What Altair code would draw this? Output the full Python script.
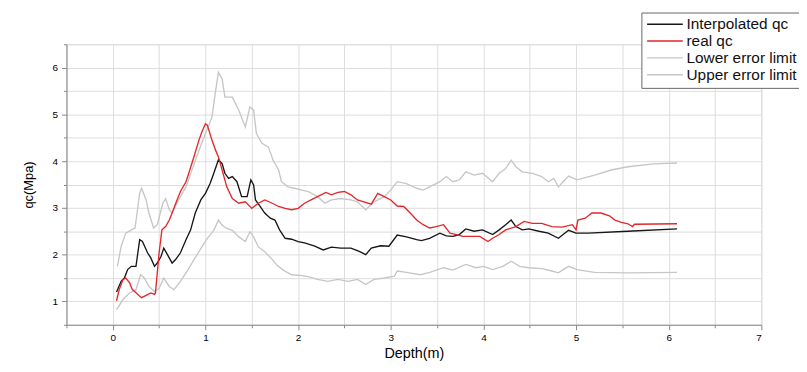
import altair as alt
import pandas as pd

# ---------------- data ----------------
interp_x = [0.04, 0.09, 0.125, 0.16, 0.2, 0.25, 0.29, 0.32, 0.375, 0.41, 0.45, 0.48, 0.52, 0.55, 0.59,
            0.64, 0.68, 0.73, 0.79, 0.84, 0.89, 0.95, 1.0, 1.05, 1.09, 1.14, 1.18, 1.21, 1.25, 1.29,
            1.34, 1.39, 1.45, 1.49, 1.52, 1.54, 1.59, 1.64, 1.7, 1.75, 1.8, 1.86, 1.93, 2.0, 2.07,
            2.18, 2.27, 2.36, 2.46, 2.57, 2.66, 2.73, 2.79, 2.89, 2.98, 3.07, 3.17, 3.28, 3.33, 3.42,
            3.53, 3.6, 3.67, 3.74, 3.81, 3.9, 3.99, 4.1, 4.17, 4.24, 4.3, 4.35, 4.42, 4.49, 4.6,
            4.7, 4.81, 4.86, 4.92, 5.0, 5.13, 5.56, 6.09]
interp_y = [1.2, 1.43, 1.5, 1.68, 1.75, 1.75, 2.32, 2.28, 2.04, 1.93, 1.75, 1.82, 1.96, 2.14, 2.0,
            1.82, 1.9, 2.04, 2.32, 2.53, 2.89, 3.17, 3.31, 3.52, 3.74, 4.03, 3.95, 3.74, 3.63, 3.67,
            3.56, 3.24, 3.24, 3.6, 3.49, 3.17, 3.03, 2.89, 2.78, 2.74, 2.53, 2.35, 2.33, 2.28, 2.25,
            2.18, 2.1, 2.16, 2.14, 2.14, 2.07, 2.0, 2.14, 2.19, 2.18, 2.42, 2.38, 2.32, 2.3, 2.35,
            2.46, 2.4, 2.39, 2.43, 2.55, 2.5, 2.53, 2.43, 2.53, 2.64, 2.74, 2.6, 2.53, 2.55, 2.5,
            2.46, 2.35, 2.43, 2.52, 2.46, 2.46, 2.5, 2.55]

real_x = [0.04, 0.07, 0.11, 0.14, 0.18, 0.21, 0.27, 0.31, 0.36, 0.41, 0.45, 0.46, 0.5, 0.53, 0.57,
          0.61, 0.64, 0.68, 0.73, 0.79, 0.82, 0.875, 0.93, 0.96, 1.0, 1.02, 1.07, 1.11, 1.14, 1.18,
          1.23, 1.29, 1.36, 1.43, 1.5, 1.57, 1.64, 1.71, 1.79, 1.86, 1.93, 2.0, 2.07, 2.14, 2.21,
          2.3, 2.36, 2.43, 2.5, 2.57, 2.64, 2.71, 2.79, 2.86, 2.93, 3.0, 3.07, 3.14, 3.21, 3.28,
          3.35, 3.42, 3.49, 3.57, 3.64, 3.71, 3.78, 3.85, 3.96, 4.05, 4.1, 4.17, 4.24, 4.35, 4.44,
          4.53, 4.63, 4.74, 4.85, 4.96, 5.0, 5.02, 5.1, 5.17, 5.27, 5.36, 5.42, 5.49, 5.56, 5.61,
          5.63, 6.09]
real_y = [1.01, 1.26, 1.47, 1.5, 1.4, 1.26, 1.15, 1.08, 1.13, 1.18, 1.15, 1.18, 2.04, 2.53, 2.6,
          2.74, 2.89, 3.1, 3.35, 3.56, 3.74, 4.09, 4.45, 4.62, 4.8, 4.77, 4.45, 4.23, 4.09, 3.81,
          3.45, 3.2, 3.1, 3.13, 2.99, 3.1, 3.17, 3.11, 3.03, 2.99, 2.96, 2.99, 3.1, 3.17, 3.24,
          3.33, 3.28, 3.33, 3.35, 3.28, 3.17, 3.13, 3.08, 3.31, 3.24, 3.17, 3.04, 3.03, 2.89, 2.74,
          2.64, 2.57, 2.6, 2.64, 2.46, 2.43, 2.39, 2.39, 2.39, 2.28, 2.35, 2.43, 2.53, 2.6, 2.71,
          2.67, 2.67, 2.6, 2.59, 2.64, 2.53, 2.74, 2.78, 2.89, 2.89, 2.83, 2.74, 2.69, 2.66, 2.6,
          2.65, 2.66]

lower_x = [0.04, 0.11, 0.18, 0.25, 0.3, 0.34, 0.39, 0.45, 0.5, 0.55, 0.61, 0.66, 0.73, 0.8, 0.875,
           0.95, 1.02, 1.09, 1.14, 1.18, 1.23, 1.29, 1.36, 1.43, 1.48, 1.52, 1.57, 1.64, 1.71, 1.77,
           1.84, 1.93, 2.04, 2.11, 2.21, 2.32, 2.43, 2.54, 2.64, 2.73, 2.82, 2.93, 3.04, 3.07, 3.17,
           3.32, 3.42, 3.57, 3.67, 3.81, 3.92, 4.0, 4.1, 4.21, 4.3, 4.39, 4.49, 4.63, 4.74, 4.81,
           4.86, 4.92, 5.01, 5.2, 5.56, 6.09]
lower_y = [0.82, 1.04, 1.18, 1.25, 1.57, 1.5, 1.32, 1.21, 1.28, 1.5, 1.32, 1.25, 1.43, 1.64, 1.89,
           2.13, 2.35, 2.52, 2.74, 2.63, 2.56, 2.52, 2.38, 2.28, 2.49, 2.38, 2.17, 2.06, 1.92, 1.78,
           1.67, 1.57, 1.55, 1.53, 1.47, 1.43, 1.47, 1.43, 1.47, 1.36, 1.47, 1.5, 1.54, 1.65, 1.62,
           1.57, 1.62, 1.72, 1.67, 1.79, 1.72, 1.75, 1.68, 1.75, 1.86, 1.75, 1.72, 1.7, 1.65, 1.61,
           1.68, 1.75, 1.68, 1.62, 1.61, 1.62]

upper_x = [0.05, 0.09, 0.14, 0.2, 0.24, 0.29, 0.31, 0.36, 0.39, 0.44, 0.48, 0.54, 0.57, 0.61, 0.64,
           0.71, 0.79, 0.86, 0.93, 1.0, 1.07, 1.11, 1.14, 1.18, 1.21, 1.29, 1.36, 1.43, 1.48, 1.52,
           1.55, 1.61, 1.68, 1.73, 1.79, 1.82, 1.89, 1.96, 2.04, 2.11, 2.21, 2.29, 2.36, 2.46, 2.57,
           2.64, 2.73, 2.82, 2.93, 3.0, 3.07, 3.17, 3.28, 3.35, 3.42, 3.53, 3.6, 3.67, 3.74, 3.81,
           3.9, 3.99, 4.1, 4.17, 4.24, 4.3, 4.35, 4.42, 4.53, 4.63, 4.7, 4.76, 4.81, 4.86, 4.92,
           5.01, 5.2, 5.38, 5.56, 5.84, 6.09]
upper_y = [1.75, 2.18, 2.46, 2.53, 2.57, 3.31, 3.42, 3.17, 2.89, 2.57, 2.64, 3.1, 3.2, 2.96, 2.89,
           3.17, 3.45, 3.84, 4.23, 4.59, 4.94, 5.51, 5.9, 5.76, 5.37, 5.37, 5.09, 4.73, 5.16, 5.09,
           4.59, 4.38, 4.3, 4.02, 3.81, 3.56, 3.45, 3.42, 3.38, 3.35, 3.24, 3.1, 3.17, 3.2, 3.17,
           3.13, 2.96, 3.13, 3.24, 3.38, 3.56, 3.52, 3.42, 3.38, 3.45, 3.56, 3.67, 3.56, 3.6, 3.77,
           3.7, 3.74, 3.56, 3.74, 3.84, 4.02, 3.88, 3.77, 3.74, 3.67, 3.56, 3.63, 3.45, 3.56, 3.68,
           3.6, 3.7, 3.81, 3.88, 3.94, 3.96]

series_names = ["Interpolated qc", "real qc", "Lower error limit", "Upper error limit"]
series_colors = ["#161616", "#e3262b", "#c6c6c6", "#c6c6c6"]

x_tick_values = [-0.5, 0, 0.5, 1, 1.5, 2, 2.5, 3, 3.5, 4, 4.5, 5, 5.5, 6, 6.5, 7]
y_tick_values = [0.5, 1, 1.5, 2, 2.5, 3, 3.5, 4, 4.5, 5, 5.5, 6, 6.5]

# grey limits first so they are drawn underneath
rows = []
for name, xs, ys in [("Lower error limit", lower_x, lower_y),
                     ("Upper error limit", upper_x, upper_y),
                     ("Interpolated qc", interp_x, interp_y),
                     ("real qc", real_x, real_y)]:
    for i, (xv, yv) in enumerate(zip(xs, ys)):
        rows.append({"series": name, "depth": xv, "qc": yv, "idx": i})
df = pd.DataFrame(rows)

major_test = "abs(datum.value - round(datum.value)) < 0.001"
label_expr = f"{major_test} ? format(datum.value, 'd') : ''"

chart = alt.Chart(df).mark_line(strokeWidth=1.35).encode(
    x=alt.X("depth:Q",
            scale=alt.Scale(domain=[-0.5, 7], nice=False, zero=False),
            axis=alt.Axis(title="Depth(m)", values=x_tick_values, labelExpr=label_expr,
                          tickSize={"condition": {"test": major_test, "value": 5}, "value": 3},
                          titleFontSize=14.5, titleFontWeight="normal", titlePadding=4,
                          labelPadding=3)),
    y=alt.Y("qc:Q",
            scale=alt.Scale(domain=[0.5, 6.5], nice=False, zero=False),
            axis=alt.Axis(title="qc(Mpa)", values=y_tick_values, labelExpr=label_expr,
                          tickSize={"condition": {"test": major_test, "value": 5}, "value": 3},
                          titleFontSize=13, titleFontWeight="normal", titlePadding=17,
                          labelPadding=4)),
    color=alt.Color("series:N",
                    scale=alt.Scale(domain=series_names, range=series_colors),
                    legend=alt.Legend(title=None, orient="none", legendX=580, legendY=-32,
                                      symbolType="M-3,0H3", symbolSize=144,
                                      symbolStrokeWidth=1.4, symbolOffset=12,
                                      labelFontSize=15.5, labelFont="Liberation Sans",
                                      labelColor="#111", strokeColor="#666", fillColor="white",
                                      padding=4, rowPadding=0, labelOffset=14)),
    detail="series:N",
    order="idx:Q",
).properties(
    width=701, height=283,
    autosize=alt.AutoSizeParams(type="none"),
    padding={"left": 59, "top": 35, "right": 38, "bottom": 38},
).configure_view(stroke=None).configure_axis(
    grid=False, domainColor="#333", domainWidth=1.2, tickColor="#333", tickWidth=1.1,
    labelFont="Liberation Sans", labelFontSize=11, labelColor="#333",
    titleFont="Liberation Sans", titleColor="#222",
).configure(background="white")

chart.save("out.html", embed_options={"renderer": "svg", "actions": False})
